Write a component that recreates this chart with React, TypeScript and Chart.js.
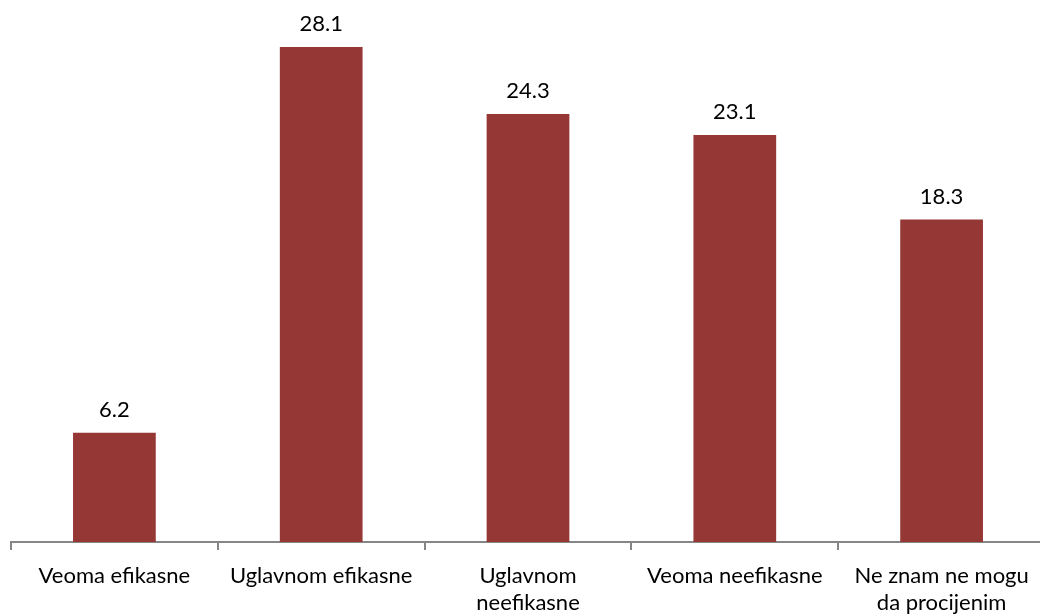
import React, { useEffect, useRef } from "react";
import { Chart, registerables } from "chart.js";

Chart.register(...registerables);

const categories: (string | string[])[] = [
  "Veoma efikasne",
  "Uglavnom efikasne",
  ["Uglavnom", "neefikasne"],
  "Veoma neefikasne",
  ["Ne znam ne mogu", "da procijenim"],
];
const values = [6.2, 28.1, 24.3, 23.1, 18.3];
const barColor = "#953735";
const FONT = "Lato, 'Open Sans', sans-serif";

const valueLabels = {
  id: "valueLabels",
  afterDatasetsDraw(chart: any) {
    const ctx = chart.ctx;
    const meta = chart.getDatasetMeta(0);
    ctx.save();
    ctx.fillStyle = "#000";
    ctx.font = `22px ${FONT}`;
    ctx.textAlign = "center";
    ctx.textBaseline = "alphabetic";
    meta.data.forEach((el: any, i: number) => {
      ctx.fillText(values[i].toFixed(1), el.x, el.y - 16);
    });
    ctx.restore();
  },
};

export default function App() {
  const ref = useRef<HTMLCanvasElement>(null);
  useEffect(() => {
    const chart = new Chart(ref.current!, {
      type: "bar",
      data: {
        labels: categories,
        datasets: [
          {
            data: values,
            backgroundColor: barColor,
            categoryPercentage: 1,
            barPercentage: 0.4,
          },
        ],
      },
      options: {
        animation: false,
        responsive: false,
        maintainAspectRatio: false,
        layout: { padding: { left: 11, right: 5, top: 13.5, bottom: 0 } },
        plugins: {
          legend: { display: false },
          tooltip: { enabled: false },
        },
        scales: {
          y: { display: false, min: 0, max: 30 },
          x: {
            offset: true,
            afterFit: (s: any) => {
              s.height = 74;
            },
            grid: {
              display: true,
              offset: true,
              drawOnChartArea: false,
              drawTicks: true,
              tickLength: 8,
              color: "#868686",
              lineWidth: 2,
            },
            border: { display: true, color: "#868686", width: 2 },
            ticks: {
              color: "#000",
              padding: 12,
              maxRotation: 0,
              autoSkip: false,
              font: { family: FONT, size: 22, lineHeight: 1.23 },
            },
          },
        },
      },
      plugins: [valueLabels],
    });
    return () => chart.destroy();
  }, []);
  return (
    <div
      style={{
        position: "fixed",
        left: 0,
        top: 0,
        width: 1040,
        height: 616,
        overflow: "hidden",
        background: "#fff",
      }}
    >
      <canvas ref={ref} width={1050} height={616} style={{ display: "block" }} />
    </div>
  );
}
